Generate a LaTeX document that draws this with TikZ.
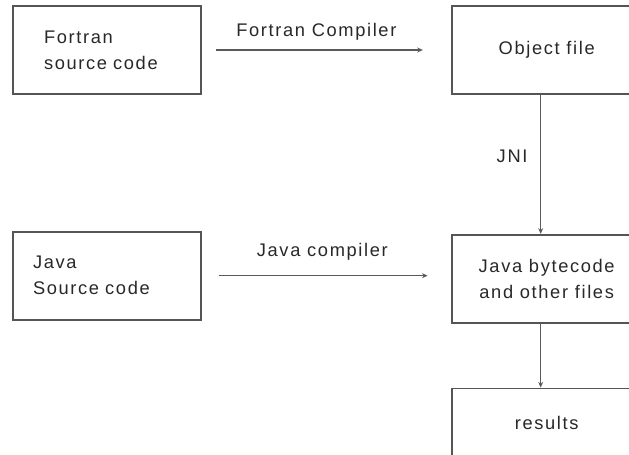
\documentclass[tikz,border=0pt]{standalone}
\usepackage{fontspec}
\setmainfont{Liberation Sans}[LetterSpace=9]
\usetikzlibrary{arrows.meta, positioning}
\usepackage{xcolor}
\definecolor{BoxGray}{RGB}{85,85,85}
\definecolor{LineGray}{RGB}{90,90,90}
\definecolor{TextGray}{RGB}{40,40,40}

\begin{document}
\begin{tikzpicture}[
    font=\fontsize{13}{18.5}\selectfont, text=TextGray,
    stage/.style={rectangle, draw=BoxGray, line width=1.2pt, minimum width=4.7cm, minimum height=2.2cm, inner sep=0pt},
    target/.style={stage, minimum width=4.75cm, align=center},
    link/.style={draw=LineGray, line width=0.8pt, -{Stealth[length=4pt, width=3.5pt]}},
    tag/.style={text=TextGray}
  ]
  \useasboundingbox (0,0) rectangle (15.725,-11.375);

  \node (fortran) [stage, text width=3.15cm, align=left] at (2.675,-1.25) {Fortran\\source code};
  \node (object) [target, right=6.225cm of fortran] {Object file};
  \node (java) [stage, text width=3.7cm, align=left, below=3.4cm of fortran] {Java\\Source code};
  \node (bytecode) [target, below=3.475cm of object] {Java bytecode\\and other files};
  \node (results) [target, minimum height=1.75cm, below=1.6cm of bytecode] {results};

  \draw[link, shorten <=0.35cm, shorten >=0.7cm] (fortran.east |- object.west) -- (object.west)
    node[tag, midway, above=0.12cm, xshift=-0.25cm] {Fortran Compiler};
  \draw[link, shorten <=0.42cm, shorten >=0.58cm] (java.east) -- (java.east -| bytecode.west)
    node[tag, midway, above=0.25cm, xshift=-0.1cm] {Java compiler};
  % the column of arrows sits a little left of the box centres
  \draw[link] ([xshift=-0.15cm]object.south) -- ([xshift=-0.15cm]bytecode.north)
    node[tag, midway, left=0.2cm, yshift=0.2cm] {JNI};
  \draw[link] ([xshift=-0.15cm]bytecode.south) -- ([xshift=-0.15cm]results.north);
\end{tikzpicture}
\end{document}
